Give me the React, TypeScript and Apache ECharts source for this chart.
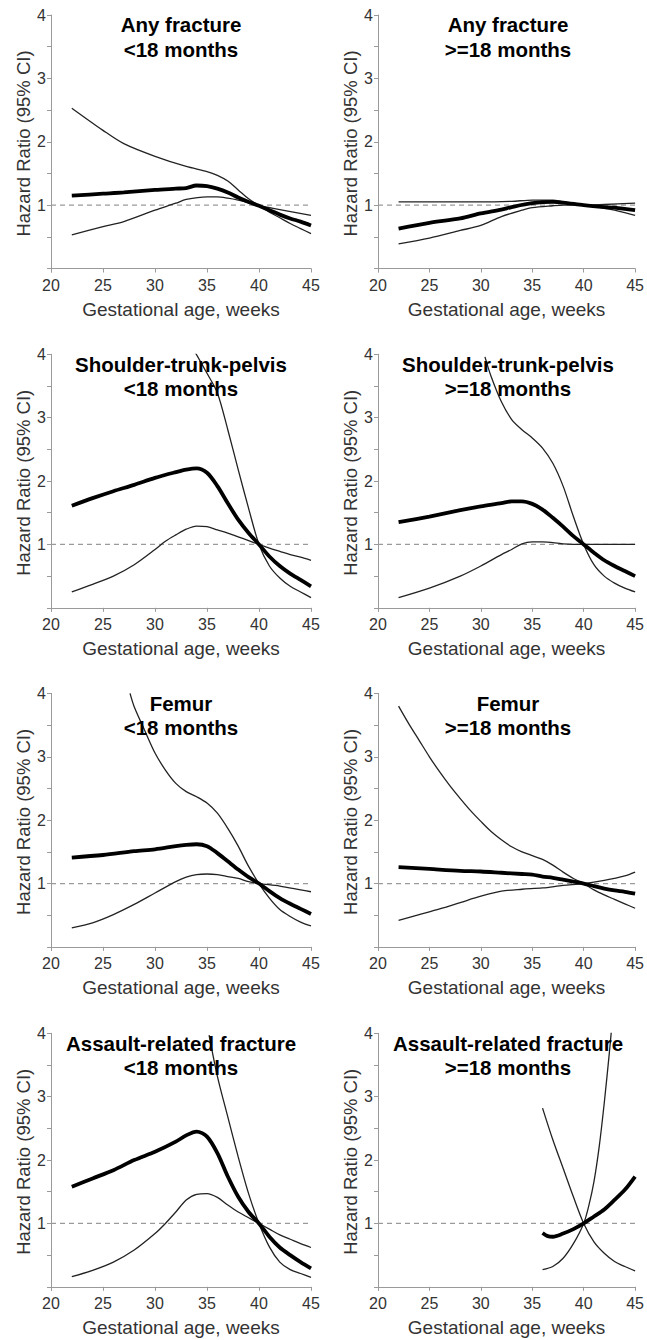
import React, { useEffect, useRef } from "react";
import * as echarts from "echarts";

// ---------- data (hazard ratios) ----------
const xTicks = [20, 25, 30, 35, 40, 45];
const yTickValues = [0, 0.5, 1, 1.5, 2, 2.5, 3, 3.5, 4];
const yLabelValues = [1, 2, 3, 4];
const refValue = 1;

const titles = [
  "Any fracture\n<18 months",
  "Any fracture\n>=18 months",
  "Shoulder-trunk-pelvis\n<18 months",
  "Shoulder-trunk-pelvis\n>=18 months",
  "Femur\n<18 months",
  "Femur\n>=18 months",
  "Assault-related fracture\n<18 months",
  "Assault-related fracture\n>=18 months",
];

// Panel 1: Any fracture <18 months
const anyLtWeeks = [22, 25, 27, 30, 32, 33, 34, 35, 36, 37, 38, 39, 40, 41, 42, 43, 44, 45];
const anyLtEst = [1.15, 1.18, 1.2, 1.24, 1.26, 1.27, 1.31, 1.3, 1.26, 1.2, 1.12, 1.05, 0.99, 0.92, 0.85, 0.79, 0.74, 0.68];
const anyLtHiWeeks = [22, 25, 27, 30, 33, 35, 36, 37, 38, 39, 40, 41, 42, 43, 44, 45];
const anyLtHi = [2.53, 2.18, 1.97, 1.77, 1.61, 1.53, 1.47, 1.38, 1.24, 1.1, 0.99, 0.89, 0.8, 0.71, 0.63, 0.55];
const anyLtLoWeeks = [22, 25, 27, 30, 32, 33, 35, 36, 37, 38, 39, 40, 42, 45];
const anyLtLo = [0.53, 0.66, 0.74, 0.92, 1.03, 1.09, 1.13, 1.13, 1.11, 1.08, 1.04, 0.99, 0.93, 0.84];

// Panel 2: Any fracture >=18 months
const anyGeWeeks = [22, 25, 28, 30, 32, 33, 35, 37, 38, 40, 42, 43, 45];
const anyGeEst = [0.63, 0.72, 0.79, 0.87, 0.93, 0.97, 1.03, 1.05, 1.04, 1.0, 0.97, 0.96, 0.92];
const anyGeHiWeeks = [22, 30, 33, 35, 37, 38, 39, 40, 41, 42, 43, 44, 45];
const anyGeHi = [1.05, 1.05, 1.06, 1.08, 1.08, 1.05, 1.02, 1.0, 0.98, 0.95, 0.92, 0.88, 0.84];
const anyGeLoWeeks = [22, 25, 28, 30, 32, 34, 35, 37, 38, 40, 42, 45];
const anyGeLo = [0.39, 0.48, 0.6, 0.68, 0.82, 0.92, 0.96, 0.99, 1.0, 1.0, 1.01, 1.03];

// Panel 3: Shoulder-trunk-pelvis <18 months
const stpLtWeeks = [22, 24, 26, 28, 30, 32, 33, 34, 35, 36, 37, 38, 39, 40, 41, 42, 43, 44, 45];
const stpLtEst = [1.61, 1.73, 1.84, 1.94, 2.05, 2.14, 2.18, 2.2, 2.13, 1.92, 1.65, 1.39, 1.18, 1.0, 0.81, 0.66, 0.54, 0.44, 0.34];
const stpLtHiWeeks = [33.8, 35, 36, 37, 38, 39, 40, 41, 42, 43, 44, 45];
const stpLtHi = [4.05, 3.7, 3.39, 2.81, 2.18, 1.57, 1.0, 0.66, 0.47, 0.34, 0.25, 0.16];
const stpLtLoWeeks = [22, 24, 26, 28, 30, 31, 32, 33, 34, 35, 36, 37, 38, 39, 40, 41, 42, 43, 44, 45];
const stpLtLo = [0.25, 0.37, 0.5, 0.68, 0.92, 1.05, 1.15, 1.24, 1.29, 1.28, 1.23, 1.18, 1.12, 1.06, 1.0, 0.94, 0.89, 0.84, 0.8, 0.75];

// Panel 4: Shoulder-trunk-pelvis >=18 months
const stpGeWeeks = [22, 25, 28, 30, 32, 33, 34, 35, 36, 37, 38, 39, 40, 41, 42, 43, 44, 45];
const stpGeEst = [1.35, 1.44, 1.54, 1.6, 1.65, 1.68, 1.68, 1.64, 1.55, 1.42, 1.28, 1.13, 1.0, 0.87, 0.75, 0.66, 0.58, 0.5];
const stpGeHiWeeks = [30.4, 31, 32, 33, 34, 35, 36, 37, 38, 39, 40, 41, 42, 43, 44, 45];
const stpGeHi = [3.96, 3.65, 3.25, 2.97, 2.81, 2.68, 2.52, 2.28, 1.92, 1.44, 1.0, 0.68, 0.5, 0.39, 0.31, 0.25];
const stpGeLoWeeks = [22, 25, 28, 30, 32, 33, 34, 35, 36, 38, 40, 42, 45];
const stpGeLo = [0.16, 0.31, 0.5, 0.66, 0.84, 0.92, 1.01, 1.04, 1.04, 1.01, 1.0, 1.0, 1.0];

// Panel 5: Femur <18 months
const femLtWeeks = [22, 25, 28, 30, 32, 33, 34, 35, 36, 37, 38, 39, 40, 41, 42, 43, 44, 45];
const femLtEst = [1.41, 1.45, 1.51, 1.54, 1.59, 1.61, 1.62, 1.59, 1.48, 1.35, 1.22, 1.1, 1.0, 0.88, 0.77, 0.68, 0.6, 0.52];
const femLtHiWeeks = [27.6, 28, 29, 30, 31, 32, 33, 34, 35, 36, 37, 38, 39, 40, 41, 42, 43, 44, 45];
const femLtHi = [4.0, 3.79, 3.42, 3.06, 2.79, 2.58, 2.45, 2.37, 2.27, 2.11, 1.87, 1.59, 1.27, 1.0, 0.77, 0.59, 0.48, 0.39, 0.33];
const femLtLoWeeks = [22, 24, 26, 28, 30, 32, 33, 34, 35, 36, 37, 38, 39, 40, 42, 44, 45];
const femLtLo = [0.3, 0.38, 0.51, 0.67, 0.85, 1.03, 1.1, 1.14, 1.15, 1.14, 1.11, 1.08, 1.03, 1.0, 0.96, 0.9, 0.87];

// Panel 6: Femur >=18 months
const femGeWeeks = [22, 25, 28, 30, 32, 34, 35, 36, 37, 38, 39, 40, 41, 42, 43, 44, 45];
const femGeEst = [1.26, 1.23, 1.2, 1.19, 1.17, 1.15, 1.14, 1.11, 1.09, 1.06, 1.03, 1.0, 0.96, 0.92, 0.89, 0.87, 0.84];
const femGeHiWeeks = [22, 23, 24, 25, 26, 27, 28, 29, 30, 31, 32, 33, 34, 35, 36, 37, 38, 39, 40, 41, 42, 43, 44, 45];
const femGeHi = [3.8, 3.52, 3.26, 3.0, 2.76, 2.54, 2.34, 2.15, 1.98, 1.82, 1.69, 1.58, 1.5, 1.44, 1.38, 1.29, 1.18, 1.08, 1.0, 0.9, 0.82, 0.75, 0.68, 0.61];
const femGeLoWeeks = [22, 24, 26, 28, 30, 32, 34, 36, 38, 40, 42, 44, 45];
const femGeLo = [0.42, 0.51, 0.6, 0.7, 0.8, 0.88, 0.91, 0.93, 0.97, 1.0, 1.05, 1.12, 1.18];

// Panel 7: Assault-related fracture <18 months
const aslLtWeeks = [22, 24, 26, 28, 30, 32, 33, 34, 35, 36, 37, 38, 39, 40, 41, 42, 43, 44, 45];
const aslLtEst = [1.58, 1.71, 1.84, 2.0, 2.13, 2.29, 2.39, 2.45, 2.37, 2.11, 1.74, 1.42, 1.18, 1.0, 0.79, 0.62, 0.5, 0.39, 0.29];
const aslLtHiWeeks = [35.2, 36, 37, 38, 39, 40, 41, 42, 43, 44, 45];
const aslLtHi = [3.97, 3.32, 2.68, 2.05, 1.47, 1.0, 0.63, 0.39, 0.27, 0.21, 0.15];
const aslLtLoWeeks = [22, 24, 26, 28, 30, 31, 32, 33, 34, 35, 36, 37, 38, 39, 40, 41, 42, 43, 44, 45];
const aslLtLo = [0.16, 0.26, 0.39, 0.58, 0.84, 1.0, 1.18, 1.37, 1.46, 1.47, 1.41, 1.29, 1.18, 1.09, 1.0, 0.91, 0.82, 0.75, 0.68, 0.62];

// Panel 8: Assault-related fracture >=18 months
const aslGeWeeks = [36, 36.5, 37, 38, 39, 40, 41, 42, 43, 44, 45];
const aslGeEst = [0.85, 0.8, 0.79, 0.84, 0.91, 1.0, 1.11, 1.22, 1.37, 1.53, 1.74];
const aslGeHiWeeks = [36, 37, 38, 39, 40, 40.5, 41, 41.5, 42, 42.5, 42.7];
const aslGeHi = [0.27, 0.32, 0.45, 0.68, 1.0, 1.28, 1.66, 2.2, 2.9, 3.7, 4.05];
const aslGeLoWeeks = [36, 37, 38, 39, 40, 41, 42, 43, 44, 45];
const aslGeLo = [2.82, 2.32, 1.87, 1.42, 1.0, 0.71, 0.53, 0.4, 0.32, 0.25];

const panels = [
  { est: [anyLtWeeks, anyLtEst], hi: [anyLtHiWeeks, anyLtHi], lo: [anyLtLoWeeks, anyLtLo] },
  { est: [anyGeWeeks, anyGeEst], hi: [anyGeHiWeeks, anyGeHi], lo: [anyGeLoWeeks, anyGeLo] },
  { est: [stpLtWeeks, stpLtEst], hi: [stpLtHiWeeks, stpLtHi], lo: [stpLtLoWeeks, stpLtLo] },
  { est: [stpGeWeeks, stpGeEst], hi: [stpGeHiWeeks, stpGeHi], lo: [stpGeLoWeeks, stpGeLo] },
  { est: [femLtWeeks, femLtEst], hi: [femLtHiWeeks, femLtHi], lo: [femLtLoWeeks, femLtLo] },
  { est: [femGeWeeks, femGeEst], hi: [femGeHiWeeks, femGeHi], lo: [femGeLoWeeks, femGeLo] },
  { est: [aslLtWeeks, aslLtEst], hi: [aslLtHiWeeks, aslLtHi], lo: [aslLtLoWeeks, aslLtLo] },
  { est: [aslGeWeeks, aslGeEst], hi: [aslGeHiWeeks, aslGeHi], lo: [aslGeLoWeeks, aslGeLo] },
];

const zip = (xs: number[], ys: number[]) => xs.map((x, i) => [x, ys[i]]);

const FONT = "'Liberation Sans', Arial, Helvetica, sans-serif";

export default function App() {
  const ref = useRef<HTMLDivElement>(null);

  useEffect(() => {
    if (!ref.current) return;
    const chart = echarts.init(ref.current, null, { renderer: "svg" });

    const colLeft = [51, 378];
    const gridW = 260;
    const rowTop = [15, 354.3, 693.4, 1033.3];
    const plotH = 253.5; // pixels from 0 to 4
    const gridH = 257;
    const yMin = -((gridH - plotH) / (plotH / 4));

    const grid: any[] = [];
    const xAxis: any[] = [];
    const yAxis: any[] = [];
    const series: any[] = [];
    const graphic: any[] = [];

    panels.forEach((p, i) => {
      const col = i % 2;
      const row = Math.floor(i / 2);
      grid.push({ left: colLeft[col], top: rowTop[row], width: gridW, height: gridH });
      xAxis.push({
        type: "value",
        gridIndex: i,
        min: xTicks[0],
        max: xTicks[xTicks.length - 1],
        interval: 5,
        name: "Gestational age, weeks",
        nameLocation: "middle",
        nameGap: 28,
        nameTextStyle: { fontSize: 19, color: "#333", fontFamily: FONT },
        axisLine: { lineStyle: { color: "#9a9a9a", width: 1 } },
        axisTick: { show: true, length: 4, lineStyle: { color: "#9a9a9a" } },
        axisLabel: { fontSize: 16, color: "#333", margin: 5, fontFamily: FONT },
        splitLine: { show: false },
      });
      yAxis.push({
        type: "value",
        gridIndex: i,
        min: yMin,
        max: 4,
        name: "Hazard Ratio (95% CI)",
        nameLocation: "middle",
        nameGap: 17,
        nameRotate: 90,
        nameTextStyle: { fontSize: 18.5, color: "#333", fontFamily: FONT },
        axisLine: { show: true, lineStyle: { color: "#9a9a9a", width: 1 } },
        axisTick: { show: true, length: 4, customValues: yTickValues, lineStyle: { color: "#9a9a9a" } },
        axisLabel: { fontSize: 16, color: "#333", margin: 5, customValues: yLabelValues, fontFamily: FONT },
        splitLine: { show: false },
      });
      // reference line at HR = 1
      series.push({
        type: "line",
        xAxisIndex: i,
        yAxisIndex: i,
        data: [[xTicks[0], refValue], [xTicks[xTicks.length - 1], refValue]],
        symbol: "none",
        lineStyle: { color: "#9a9a9a", width: 1.2, type: [5, 4] },
        silent: true,
        z: 1,
      });
      const ciStyle = { color: "#222", width: 1.3 };
      series.push({
        type: "line",
        xAxisIndex: i,
        yAxisIndex: i,
        data: zip(p.hi[0] as number[], p.hi[1] as number[]),
        symbol: "none",
        smooth: 0.3,
        lineStyle: ciStyle,
        clip: true,
        z: 2,
      });
      series.push({
        type: "line",
        xAxisIndex: i,
        yAxisIndex: i,
        data: zip(p.lo[0] as number[], p.lo[1] as number[]),
        symbol: "none",
        smooth: 0.3,
        lineStyle: ciStyle,
        clip: true,
        z: 2,
      });
      series.push({
        type: "line",
        xAxisIndex: i,
        yAxisIndex: i,
        data: zip(p.est[0] as number[], p.est[1] as number[]),
        symbol: "none",
        smooth: 0.3,
        lineStyle: { color: "#000", width: 3.8 },
        clip: true,
        z: 3,
      });
      graphic.push({
        type: "text",
        x: colLeft[col] + gridW / 2,
        y: rowTop[row] + 22,
        style: {
          text: titles[i],
          textAlign: "center",
          textVerticalAlign: "middle",
          fontSize: 20.5,
          fontWeight: "bold",
          fontFamily: FONT,
          lineHeight: 24.5,
          fill: "#000",
        },
        z: 10,
      });
    });

    chart.setOption({
      animation: false,
      backgroundColor: "#fff",
      grid,
      xAxis,
      yAxis,
      series,
      graphic,
    });

    return () => chart.dispose();
  }, []);

  return (
    <div
      ref={ref}
      style={{ position: "absolute", left: 0, top: 0, width: 647, height: 1340 }}
    />
  );
}
